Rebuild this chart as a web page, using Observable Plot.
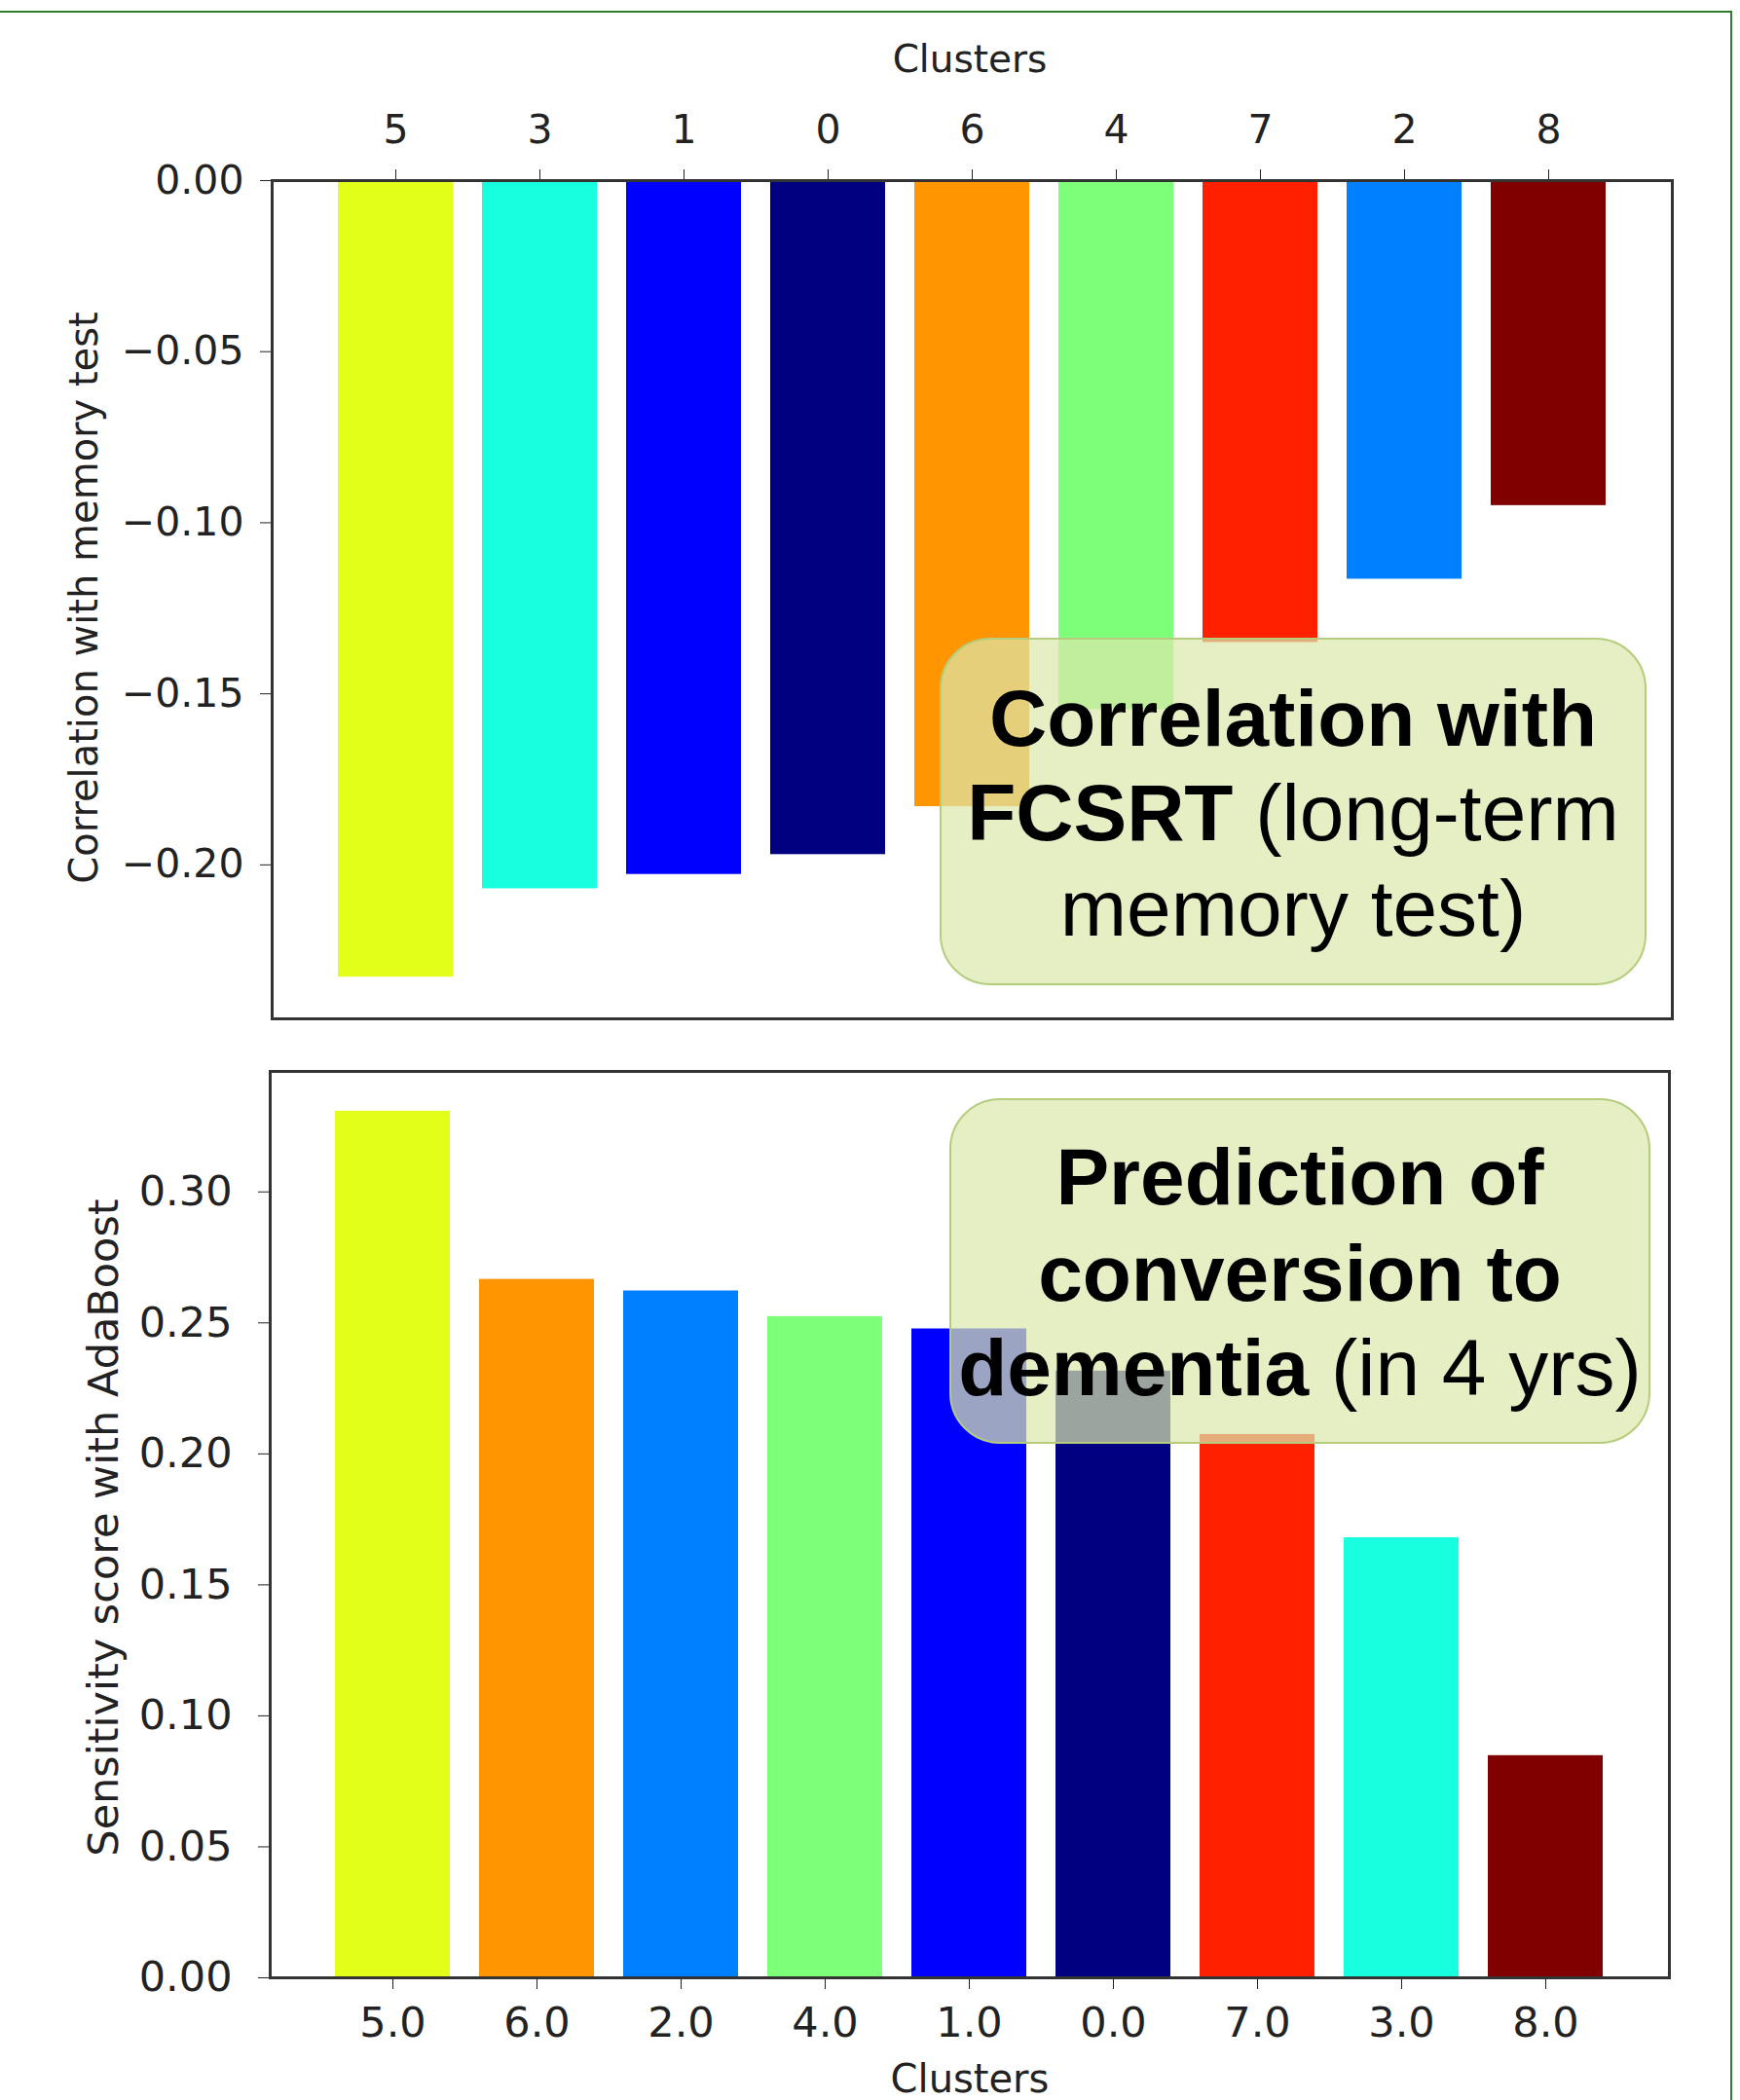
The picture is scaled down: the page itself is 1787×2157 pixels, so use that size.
<!DOCTYPE html>
<html>
<head>
<meta charset="utf-8">
<script src="https://cdn.jsdelivr.net/npm/d3@7"></script>
<script src="https://cdn.jsdelivr.net/npm/@observablehq/plot@0.6"></script>
<style>
  html, body { margin: 0; padding: 0; background: #fff; }
  #root { position: relative; width: 1787px; height: 2157px; overflow: hidden; background: #fff; }
  .chart { position: absolute; left: 0; }
  .axlabel { position: absolute; font-family: "DejaVu Sans", sans-serif; color: #222; white-space: nowrap; transform: translate(-50%, -50%); }
  .axlabel.rot { transform: translate(-50%, -50%) rotate(-90deg); }
  .box { position: absolute; box-sizing: border-box; border-radius: 52px; background: rgba(220, 231, 172, 0.71); border: 2px solid #b4cc7c; }
  .line { position: absolute; left: 0; width: 100%; text-align: center; font-family: "Liberation Sans", Arial, sans-serif; font-size: 82px; line-height: 82px; color: #000; white-space: nowrap; }
  .line b { font-weight: bold; }
  .pageborder { position: absolute; border-top: 2px solid #2f7d2f; border-right: 2px solid #2f7d2f; left: -4px; top: 11px; width: 1783px; height: 2200px; box-sizing: border-box; }
</style>
</head>
<body>
<div id="root">
  <div class="pageborder"></div>
  <div id="c1" class="chart" style="top:0px"></div>
  <div id="c2" class="chart" style="top:1050px"></div>

  <div class="axlabel" style="left:996px; top:60px; font-size:39px;">Clusters</div>
  <div class="axlabel rot" style="left:86px; top:614px; font-size:40px;">Correlation with memory test</div>
  <div class="axlabel rot" style="left:106px; top:1569px; font-size:43px;">Sensitivity score with AdaBoost</div>
  <div class="axlabel" style="left:996px; top:2135px; font-size:40px;">Clusters</div>

  <div class="box" style="left:965px; top:655px; width:726px; height:357px;">
    <div class="line" style="top:40px;"><b>Correlation with</b></div>
    <div class="line" style="top:137px;"><b>FCSRT</b> (long-term</div>
    <div class="line" style="top:235px;">memory test)</div>
  </div>
  <div class="box" style="left:975px; top:1128px; width:720px; height:355px;">
    <div class="line" style="top:38px;"><b>Prediction of</b></div>
    <div class="line" style="top:137px;"><b>conversion to</b></div>
    <div class="line" style="top:234px;"><b>dementia</b> (in 4 yrs)</div>
  </div>
</div>
<script>
// ---- data ----
const clusterIds = [0, 1, 2, 3, 4, 5, 6, 7, 8];
const jetColors = ["#000080", "#0000ff", "#0080ff", "#18ffe0", "#7dff7a", "#e2ff1a", "#ff9500", "#ff2000", "#800000"];

const topClusters = [5, 3, 1, 0, 6, 4, 7, 2, 8];
const topCorrelation = [-0.2328, -0.207, -0.2028, -0.197, -0.183, -0.1546, -0.135, -0.1165, -0.095];
const topYTicks = [0, -0.05, -0.10, -0.15, -0.20];

const bottomClusters = [5, 6, 2, 4, 1, 0, 7, 3, 8];
const bottomSensitivity = [0.3308, 0.2666, 0.2622, 0.2524, 0.2477, 0.2316, 0.2074, 0.168, 0.0848];
const bottomYTicks = [0, 0.05, 0.10, 0.15, 0.20, 0.25, 0.30];

const topData = topClusters.map((c, i) => ({cluster: c, value: topCorrelation[i]}));
const bottomData = bottomClusters.map((c, i) => ({cluster: c, value: bottomSensitivity[i]}));
const fmt2 = d3.format(".2f");

const chart1 = Plot.plot({
  width: 1787,
  height: 1100,
  marginLeft: 279,
  marginRight: 70,
  marginTop: 185,
  marginBottom: 54,
  style: {fontFamily: "DejaVu Sans, sans-serif", fontSize: "41px", color: "#222", background: "transparent"},
  x: {type: "band", domain: topClusters, paddingInner: 0.2, paddingOuter: 0.44, axis: "top",
      tickSize: 12, tickPadding: 27, label: null, tickFormat: d => String(d)},
  y: {domain: [-0.245, 0], ticks: topYTicks, tickFormat: fmt2, tickSize: 12, tickPadding: 17, label: null},
  color: {type: "ordinal", domain: clusterIds, range: jetColors},
  marks: [
    Plot.barY(topData, {x: "cluster", y1: 0, y2: "value", fill: "cluster"}),
    Plot.frame({stroke: "#333", strokeWidth: 3})
  ]
});
document.getElementById("c1").appendChild(chart1);

const chart2 = Plot.plot({
  width: 1787,
  height: 1107,
  marginLeft: 277,
  marginRight: 73,
  marginTop: 50,
  marginBottom: 126,
  style: {fontFamily: "DejaVu Sans, sans-serif", fontSize: "43px", color: "#222", background: "transparent"},
  x: {type: "band", domain: bottomClusters, paddingInner: 0.2, paddingOuter: 0.44, axis: "bottom",
      tickSize: 12, tickPadding: 18, label: null, tickFormat: d => d.toFixed(1)},
  y: {domain: [0, 0.346], ticks: bottomYTicks, tickFormat: fmt2, tickSize: 12, tickPadding: 27, label: null},
  color: {type: "ordinal", domain: clusterIds, range: jetColors},
  marks: [
    Plot.barY(bottomData, {x: "cluster", y1: 0, y2: "value", fill: "cluster"}),
    Plot.frame({stroke: "#333", strokeWidth: 3})
  ]
});
document.getElementById("c2").appendChild(chart2);
</script>
</body>
</html>
